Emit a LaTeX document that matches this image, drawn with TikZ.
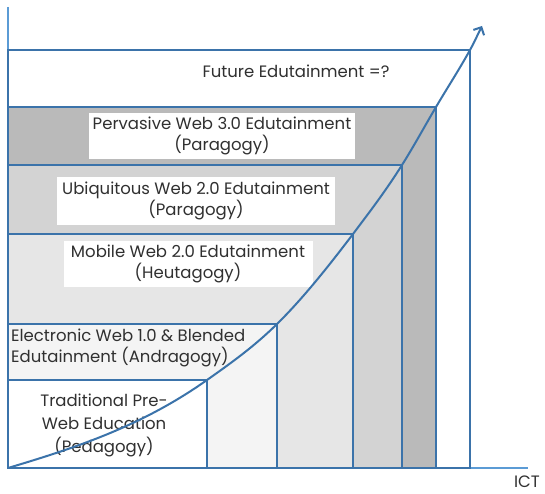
\documentclass[tikz,border=0pt]{standalone}
\usepackage{fontspec}
\setmainfont{Poppins}
\usetikzlibrary{arrows.meta}
\definecolor{edge}{HTML}{3B73AA}
\definecolor{axis}{HTML}{5B9BD5}
\definecolor{lvlA}{HTML}{FFFFFF}
\definecolor{lvlB}{HTML}{F4F4F4}
\definecolor{lvlC}{HTML}{E6E6E6}
\definecolor{lvlD}{HTML}{D3D3D3}
\definecolor{lvlE}{HTML}{BABABA}
\definecolor{ink}{HTML}{303030}
\tikzset{
  stage/.style={draw=edge, line width=2.2pt},
  axisline/.style={draw=axis, line width=2pt},
  trend/.style={draw=edge, line width=2pt, -{Straight Barb[length=6pt,width=12pt,line width=2pt]}},
  lbl/.style={font=\fontsize{16.5}{21}\selectfont, text=ink, align=center, inner sep=0pt},
  lblbox/.style={lbl, fill=white},
}
\begin{document}
\begin{tikzpicture}[x=1pt, y=-1pt]
\useasboundingbox (0,0) rectangle (545,494);

% origin, axis ends and the top-right corners of the nested stages
\coordinate (o) at (8,468);
\coordinate (ytop) at (8,7);
\coordinate (xend) at (528,468);
\coordinate (c1) at (207,380);
\coordinate (c2) at (277,324);
\coordinate (c3) at (353,234);
\coordinate (c4) at (402,165);
\coordinate (c5) at (436,107);
\coordinate (c6) at (470,50);
\coordinate (tip) at (482,26);

% axes
\draw[axisline] (ytop) -- (o) -- (xend);

% nested stages, outermost first
\filldraw[stage, fill=lvlA] (o) rectangle (c6);
\filldraw[stage, fill=lvlE] (o) rectangle (c5);
\filldraw[stage, fill=lvlD] (o) rectangle (c4);
\filldraw[stage, fill=lvlC] (o) rectangle (c3);
\filldraw[stage, fill=lvlB] (o) rectangle (c2);
\filldraw[stage, fill=lvlA] (o) rectangle (c1);

% stage labels
\node[lbl] (future) at (296,71) {Future Edutainment =?};
\node[lblbox, minimum width=266pt, minimum height=46pt] (perv) at (222,136)
  {Pervasive Web 3.0 Edutainment\\(Paragogy)};
\node[lblbox, minimum width=278pt, minimum height=47pt] (ubiq) at (196,201)
  {Ubiquitous Web 2.0 Edutainment\\(Paragogy)};
\node[lblbox, minimum width=249pt, minimum height=46pt] (mob) at (188,264)
  {Mobile Web 2.0 Edutainment\\(Heutagogy)};
\node[lbl, align=left, anchor=west] (elec) at (11,348)
  {Electronic Web 1.0 \& Blended\\Edutainment (Andragogy)};
\node[lbl, font=\fontsize{16.5}{23}\selectfont] (trad) at (104,425)
  {Traditional Pre-\\Web Education\\(Pedagogy)};
\node[lbl, anchor=south east] (ict) at (540,488) {ICT};

% growth curve through the stage corners (smooth Hermite pieces)
\draw[trend] (o)
  .. controls (74.3,448.1) and (140.7,426.9) .. (c1)
  .. controls (230.3,363.5) and (253.7,347.0) .. (c2)
  .. controls (302.3,299.1) and (327.7,267.4) .. (c3)
  .. controls (369.3,212.4) and (385.7,190.9) .. (c4)
  .. controls (413.3,147.1) and (424.7,126.2) .. (c5)
  .. controls (447.3,87.8) and (458.7,70.4) .. (c6)
  .. controls (474,42.8) and (478,34) .. (tip);
\end{tikzpicture}
\end{document}
